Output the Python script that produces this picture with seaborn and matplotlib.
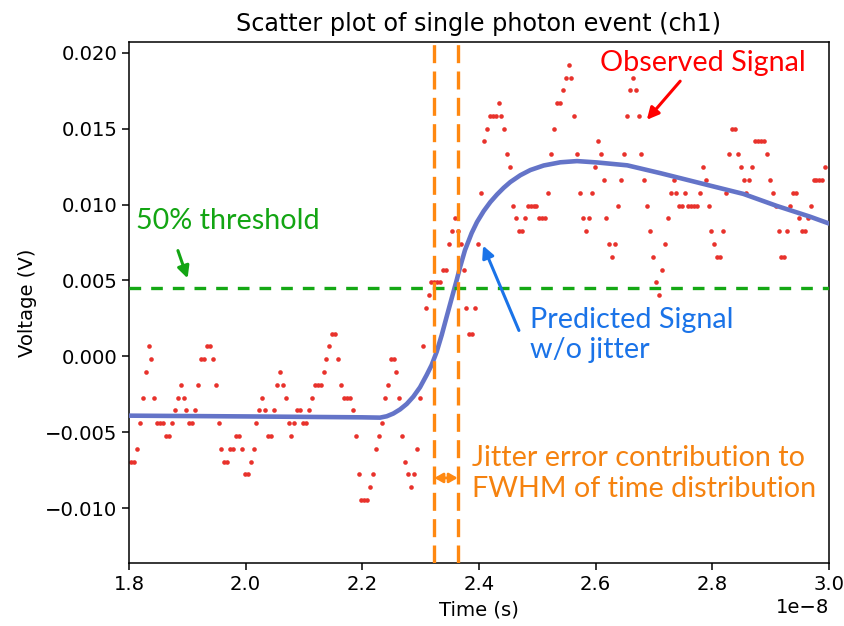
import numpy as np
import pandas as pd
import matplotlib
matplotlib.use("Agg")
import matplotlib.pyplot as plt
import seaborn as sns

# ---------------- data ----------------
# observed samples: uniform time base (50 ps sampling) and measured voltages
sample_start_s = 1.8035e-8
sample_period_s = 5.0e-11
observed_v = [
    -0.00693, -0.00693, -0.00609, -0.00440, -0.00271, -0.00103, 0.00066, -0.00019, -0.00271, -0.00440,
    -0.00440, -0.00440, -0.00524, -0.00524, -0.00440, -0.00356, -0.00271, -0.00187, -0.00271, -0.00356,
    -0.00440, -0.00440, -0.00356, -0.00187, -0.00019, -0.00019, 0.00066, 0.00066, -0.00019, -0.00187,
    -0.00440, -0.00609, -0.00693, -0.00693, -0.00609, -0.00609, -0.00524, -0.00524, -0.00609, -0.00777,
    -0.00777, -0.00693, -0.00609, -0.00440, -0.00356, -0.00271, -0.00356, -0.00524, -0.00524, -0.00356,
    -0.00187, -0.00103, -0.00187, -0.00271, -0.00440, -0.00524, -0.00440, -0.00356, -0.00356, -0.00440,
    -0.00440, -0.00356, -0.00271, -0.00187, -0.00187, -0.00187, -0.00103, -0.00019, 0.00066, 0.00150,
    0.00150, -0.00019, -0.00187, -0.00271, -0.00271, -0.00271, -0.00356, -0.00524, -0.00777, -0.00946,
    -0.00946, -0.00946, -0.00862, -0.00777, -0.00609, -0.00524, -0.00440, -0.00271, -0.00187, -0.00019,
    -0.00019, -0.00103, -0.00271, -0.00524, -0.00693, -0.00777, -0.00862, -0.00777, -0.00609, -0.00271,
    0.00066, 0.00319, 0.00403, 0.00487, 0.00487, 0.00487, 0.00487, 0.00572, 0.00572, 0.00740,
    0.00825, 0.00909, 0.00825, 0.00740, 0.00572, 0.00319, 0.00150, 0.00150, 0.00319, 0.00740,
    0.01077, 0.01415, 0.01499, 0.01583, 0.01583, 0.01583, 0.01668, 0.01583, 0.01499, 0.01330,
    0.01246, 0.00993, 0.00909, 0.00825, 0.00825, 0.00909, 0.00993, 0.00993, 0.00993, 0.00993,
    0.00909, 0.00909, 0.00909, 0.01077, 0.01330, 0.01499, 0.01668, 0.01668, 0.01752, 0.01836,
    0.01920, 0.01836, 0.01583, 0.01330, 0.01077, 0.00909, 0.00825, 0.00909, 0.01077, 0.01246,
    0.01415, 0.01330, 0.01162, 0.00909, 0.00740, 0.00656, 0.00740, 0.00993, 0.01162, 0.01330,
    0.01583, 0.01752, 0.01836, 0.01752, 0.01583, 0.01330, 0.01162, 0.00993, 0.00825, 0.00656,
    0.00487, 0.00403, 0.00572, 0.00740, 0.00909, 0.01077, 0.01162, 0.01077, 0.00993, 0.00993,
    0.01077, 0.00993, 0.00993, 0.00993, 0.00993, 0.01077, 0.01246, 0.01162, 0.00993, 0.00825,
    0.00740, 0.00656, 0.00656, 0.00825, 0.01077, 0.01330, 0.01499, 0.01499, 0.01330, 0.01246,
    0.01162, 0.01077, 0.01162, 0.01246, 0.01415, 0.01415, 0.01415, 0.01415, 0.01330, 0.01162,
    0.01077, 0.00993, 0.00825, 0.00656, 0.00656, 0.00825, 0.00993, 0.01077, 0.01077, 0.00909,
    0.00825, 0.00825, 0.00909, 0.00993, 0.01162, 0.01162, 0.01162, 0.01162, 0.01246,
]

# predicted signal (without jitter)
predicted_t = [1.800e-8, 2.000e-8, 2.200e-8, 2.2303e-8, 2.2418e-8, 2.2531e-8, 2.2646e-8, 2.2761e-8,
               2.2874e-8, 2.2989e-8, 2.3103e-8, 2.3189e-8, 2.3275e-8, 2.3361e-8, 2.3446e-8,
               2.3532e-8, 2.3618e-8, 2.3674e-8, 2.3760e-8, 2.3874e-8, 2.3966e-8, 2.4081e-8,
               2.4194e-8, 2.4309e-8, 2.4423e-8, 2.4537e-8, 2.4709e-8, 2.4880e-8, 2.5109e-8,
               2.5394e-8, 2.5680e-8, 2.6023e-8, 2.6542e-8, 2.7115e-8, 2.7686e-8, 2.8029e-8,
               2.8531e-8, 2.9104e-8, 2.9675e-8, 3.000e-8]
predicted_v = [-0.00390, -0.00395, -0.00401, -0.00403, -0.00394, -0.00376, -0.00349, -0.00313,
               -0.00265, -0.00203, -0.00122, -0.00056, 0.00031, 0.00141, 0.00262,
               0.00383, 0.00503, 0.00586, 0.00700, 0.00812, 0.00885, 0.00957,
               0.01016, 0.01066, 0.01110, 0.01148, 0.01193, 0.01227, 0.01257,
               0.01278, 0.01286, 0.01277, 0.01258, 0.01206, 0.01151, 0.01118,
               0.01070, 0.00991, 0.00920, 0.00875]

threshold_v = 0.0045
jitter_edges_t = [2.3235e-8, 2.3635e-8]

# ---------------- styling ----------------
sns.set_theme(style="ticks")
plt.rcParams["font.family"] = ["DejaVu Sans"]
plt.rcParams.update({
    "font.size": 14.1, "axes.titlesize": 17.2, "axes.labelsize": 14.1,
    "xtick.labelsize": 14.1, "ytick.labelsize": 14.1,
    "axes.linewidth": 1.1, "xtick.major.width": 1.1, "ytick.major.width": 1.1,
    "xtick.major.size": 4.9, "ytick.major.size": 4.9,
    "axes.edgecolor": "black", "xtick.color": "black", "ytick.color": "black",
    "axes.labelcolor": "black", "text.color": "black",
})

fig = plt.figure(figsize=(8.44, 6.26), dpi=100)
ax = fig.add_axes([129 / 844, 1 - 563 / 626, 700 / 844, (563 - 42) / 626])

obs = pd.DataFrame({"t": sample_start_s + sample_period_s * np.arange(len(observed_v)),
                    "v": observed_v})
pred = pd.DataFrame({"t": predicted_t, "v": predicted_v})

sns.scatterplot(data=obs, x="t", y="v", color="#e8322c", s=11, linewidth=0, ax=ax, zorder=2)
sns.lineplot(data=pred, x="t", y="v", color="#6474c8", lw=3.3, ax=ax, zorder=3)

orange = "#ff8810"
green = "#14a814"
ax.axhline(threshold_v, color=green, lw=2.4, dashes=(3.5, 3.0), zorder=4)
for te in jitter_edges_t:
    ax.axvline(te, color=orange, lw=2.4, dashes=(5.4, 2.5), zorder=4)

ax.set_xlim(1.8e-8, 3.0e-8)
ax.set_ylim(-0.0136, 0.0207)
ax.set_title("Scatter plot of single photon event (ch1)", pad=8)
ax.set_xlabel("Time (s)", labelpad=5)
ax.set_ylabel("Voltage (V)", labelpad=6)
for s in ax.spines.values():
    s.set_visible(True)
    s.set_color("black")

# ---------------- annotations ----------------
afont = ["Lato", "DejaVu Sans"]
fs = 20.7
ax.text(2.6074e-8, 0.01932, "Observed Signal", color="#ff0000", fontsize=fs, family=afont,
        ha="left", va="center", zorder=6)
ax.annotate("", xy=(2.6846e-8, 0.01544), xytext=(2.748e-8, 0.01826),
            arrowprops=dict(arrowstyle="-|>,head_length=0.5,head_width=0.25", color="#ff0000", lw=2.2),
            zorder=6)

ax.text(1.812e-8, 0.00892, "50% threshold", color="#13a513", fontsize=fs, family=afont,
        ha="left", va="center", zorder=6)
ax.annotate("", xy=(1.902e-8, 0.00497), xytext=(1.8823e-8, 0.00714),
            arrowprops=dict(arrowstyle="-|>,head_length=0.5,head_width=0.25", color="#13a513", lw=2.2),
            zorder=6)

ax.text(2.4874e-8, 0.00141, "Predicted Signal\nw/o jitter", color="#1a73e8", fontsize=fs,
        family=afont, ha="left", va="center", linespacing=1.18, zorder=6)
ax.annotate("", xy=(2.4052e-8, 0.00746), xytext=(2.4703e-8, 0.00154),
            arrowprops=dict(arrowstyle="-|>,head_length=0.5,head_width=0.25", color="#1a73e8", lw=2.2),
            zorder=6)

ax.text(2.388e-8, -0.00771, "Jitter error contribution to\nFWHM of time distribution",
        color="#f5820f", fontsize=fs, family=afont, ha="left", va="center", linespacing=1.27, zorder=6)
ax.annotate("", xy=(jitter_edges_t[0], -0.0080), xytext=(jitter_edges_t[1], -0.0080),
            arrowprops=dict(arrowstyle="<|-|>,head_length=0.35,head_width=0.2", color=orange, lw=2,
                            shrinkA=0, shrinkB=0),
            zorder=6)

fig.savefig("out.png", dpi=100)
